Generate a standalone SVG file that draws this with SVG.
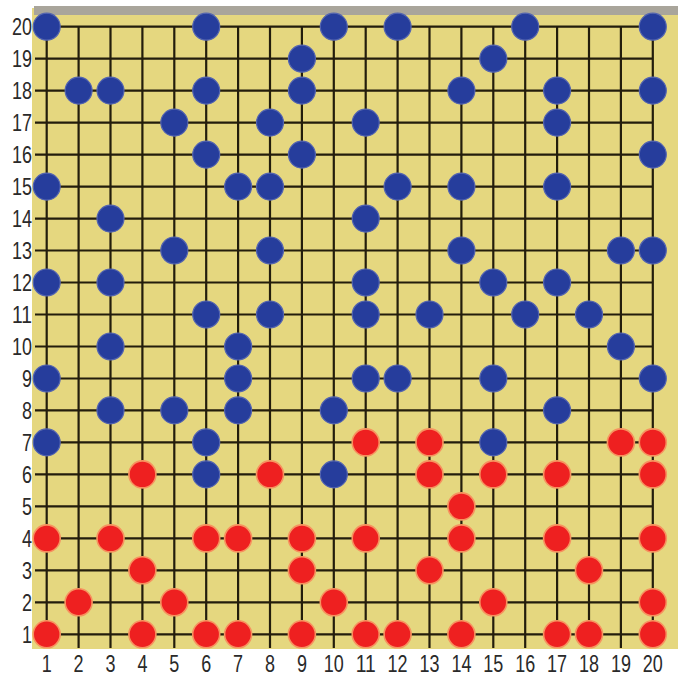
<svg xmlns="http://www.w3.org/2000/svg" width="678" height="677" viewBox="0 0 678 677">
<style>
.g{stroke:#231d0c;stroke-width:2.2;fill:none}
.b{fill:#263d9c;stroke:#5465b0;stroke-width:1.2}
.r{fill:#ee2020;stroke:#f7925f;stroke-width:1.6}
.t{font-family:"Liberation Sans",Arial,sans-serif;font-size:24px;fill:#2a2a2a}
.rl{text-anchor:end}
.cl{text-anchor:middle}
</style>
<rect width="678" height="677" fill="#ffffff"/>
<g id="board">
<rect x="32" y="8" width="646" height="641" fill="#e5d77f"/>
<rect x="34" y="6" width="644" height="9" fill="#a9a59b"/>
</g>
<g id="connectors" class="g">
<path d="M35 26.7H652.8M35 58.7H652.8M35 90.6H652.8M35 122.6H652.8M35 154.6H652.8M35 186.6H652.8M35 218.6H652.8M35 250.5H652.8M35 282.5H652.8M35 314.5H652.8M35 346.5H652.8M35 378.5H652.8M35 410.4H652.8M35 442.4H652.8M35 474.4H652.8M35 506.4H652.8M35 538.4H652.8M35 570.3H652.8M35 602.3H652.8M35 634.3H652.8"/>
<path d="M46.7 26.7V648M78.6 26.7V648M110.5 26.7V648M142.4 26.7V648M174.3 26.7V648M206.2 26.7V648M238.1 26.7V648M270 26.7V648M301.9 26.7V648M333.8 26.7V648M365.7 26.7V648M397.6 26.7V648M429.5 26.7V648M461.4 26.7V648M493.3 26.7V648M525.2 26.7V648M557.1 26.7V648M589 26.7V648M620.9 26.7V648M652.8 26.7V648"/>
</g>
<g id="blue-stones" class="b">
<circle cx="46.7" cy="26.7" r="13.5"/><circle cx="206.2" cy="26.7" r="13.5"/><circle cx="333.8" cy="26.7" r="13.5"/><circle cx="397.6" cy="26.7" r="13.5"/><circle cx="525.2" cy="26.7" r="13.5"/><circle cx="652.8" cy="26.7" r="13.5"/>
<circle cx="301.9" cy="58.7" r="13.5"/><circle cx="493.3" cy="58.7" r="13.5"/>
<circle cx="78.6" cy="90.6" r="13.5"/><circle cx="110.5" cy="90.6" r="13.5"/><circle cx="206.2" cy="90.6" r="13.5"/><circle cx="301.9" cy="90.6" r="13.5"/><circle cx="461.4" cy="90.6" r="13.5"/><circle cx="557.1" cy="90.6" r="13.5"/><circle cx="652.8" cy="90.6" r="13.5"/>
<circle cx="174.3" cy="122.6" r="13.5"/><circle cx="270" cy="122.6" r="13.5"/><circle cx="365.7" cy="122.6" r="13.5"/><circle cx="557.1" cy="122.6" r="13.5"/>
<circle cx="206.2" cy="154.6" r="13.5"/><circle cx="301.9" cy="154.6" r="13.5"/><circle cx="652.8" cy="154.6" r="13.5"/>
<circle cx="46.7" cy="186.6" r="13.5"/><circle cx="238.1" cy="186.6" r="13.5"/><circle cx="270" cy="186.6" r="13.5"/><circle cx="397.6" cy="186.6" r="13.5"/><circle cx="461.4" cy="186.6" r="13.5"/><circle cx="557.1" cy="186.6" r="13.5"/>
<circle cx="110.5" cy="218.6" r="13.5"/><circle cx="365.7" cy="218.6" r="13.5"/>
<circle cx="174.3" cy="250.5" r="13.5"/><circle cx="270" cy="250.5" r="13.5"/><circle cx="461.4" cy="250.5" r="13.5"/><circle cx="620.9" cy="250.5" r="13.5"/><circle cx="652.8" cy="250.5" r="13.5"/>
<circle cx="46.7" cy="282.5" r="13.5"/><circle cx="110.5" cy="282.5" r="13.5"/><circle cx="365.7" cy="282.5" r="13.5"/><circle cx="493.3" cy="282.5" r="13.5"/><circle cx="557.1" cy="282.5" r="13.5"/>
<circle cx="206.2" cy="314.5" r="13.5"/><circle cx="270" cy="314.5" r="13.5"/><circle cx="365.7" cy="314.5" r="13.5"/><circle cx="429.5" cy="314.5" r="13.5"/><circle cx="525.2" cy="314.5" r="13.5"/><circle cx="589" cy="314.5" r="13.5"/>
<circle cx="110.5" cy="346.5" r="13.5"/><circle cx="238.1" cy="346.5" r="13.5"/><circle cx="620.9" cy="346.5" r="13.5"/>
<circle cx="46.7" cy="378.5" r="13.5"/><circle cx="238.1" cy="378.5" r="13.5"/><circle cx="365.7" cy="378.5" r="13.5"/><circle cx="397.6" cy="378.5" r="13.5"/><circle cx="493.3" cy="378.5" r="13.5"/><circle cx="652.8" cy="378.5" r="13.5"/>
<circle cx="110.5" cy="410.4" r="13.5"/><circle cx="174.3" cy="410.4" r="13.5"/><circle cx="238.1" cy="410.4" r="13.5"/><circle cx="333.8" cy="410.4" r="13.5"/><circle cx="557.1" cy="410.4" r="13.5"/>
<circle cx="46.7" cy="442.4" r="13.5"/><circle cx="206.2" cy="442.4" r="13.5"/><circle cx="493.3" cy="442.4" r="13.5"/>
<circle cx="206.2" cy="474.4" r="13.5"/><circle cx="333.8" cy="474.4" r="13.5"/>
</g>
<g id="red-stones" class="r">
<circle cx="365.7" cy="442.4" r="13.5"/><circle cx="429.5" cy="442.4" r="13.5"/><circle cx="620.9" cy="442.4" r="13.5"/><circle cx="652.8" cy="442.4" r="13.5"/>
<circle cx="142.4" cy="474.4" r="13.5"/><circle cx="270" cy="474.4" r="13.5"/><circle cx="429.5" cy="474.4" r="13.5"/><circle cx="493.3" cy="474.4" r="13.5"/><circle cx="557.1" cy="474.4" r="13.5"/><circle cx="652.8" cy="474.4" r="13.5"/>
<circle cx="461.4" cy="506.4" r="13.5"/>
<circle cx="46.7" cy="538.4" r="13.5"/><circle cx="110.5" cy="538.4" r="13.5"/><circle cx="206.2" cy="538.4" r="13.5"/><circle cx="238.1" cy="538.4" r="13.5"/><circle cx="301.9" cy="538.4" r="13.5"/><circle cx="365.7" cy="538.4" r="13.5"/><circle cx="461.4" cy="538.4" r="13.5"/><circle cx="557.1" cy="538.4" r="13.5"/><circle cx="652.8" cy="538.4" r="13.5"/>
<circle cx="142.4" cy="570.3" r="13.5"/><circle cx="301.9" cy="570.3" r="13.5"/><circle cx="429.5" cy="570.3" r="13.5"/><circle cx="589" cy="570.3" r="13.5"/>
<circle cx="78.6" cy="602.3" r="13.5"/><circle cx="174.3" cy="602.3" r="13.5"/><circle cx="333.8" cy="602.3" r="13.5"/><circle cx="493.3" cy="602.3" r="13.5"/><circle cx="652.8" cy="602.3" r="13.5"/>
<circle cx="46.7" cy="634.3" r="13.5"/><circle cx="142.4" cy="634.3" r="13.5"/><circle cx="206.2" cy="634.3" r="13.5"/><circle cx="238.1" cy="634.3" r="13.5"/><circle cx="301.9" cy="634.3" r="13.5"/><circle cx="365.7" cy="634.3" r="13.5"/><circle cx="397.6" cy="634.3" r="13.5"/><circle cx="461.4" cy="634.3" r="13.5"/><circle cx="557.1" cy="634.3" r="13.5"/><circle cx="589" cy="634.3" r="13.5"/><circle cx="652.8" cy="634.3" r="13.5"/>
</g>
<g id="row-labels" class="t rl">
<text x="32" y="35.2" textLength="20" lengthAdjust="spacingAndGlyphs">20</text>
<text x="32" y="67.2" textLength="20" lengthAdjust="spacingAndGlyphs">19</text>
<text x="32" y="99.1" textLength="20" lengthAdjust="spacingAndGlyphs">18</text>
<text x="32" y="131.1" textLength="20" lengthAdjust="spacingAndGlyphs">17</text>
<text x="32" y="163.1" textLength="20" lengthAdjust="spacingAndGlyphs">16</text>
<text x="32" y="195.1" textLength="20" lengthAdjust="spacingAndGlyphs">15</text>
<text x="32" y="227.1" textLength="20" lengthAdjust="spacingAndGlyphs">14</text>
<text x="32" y="259" textLength="20" lengthAdjust="spacingAndGlyphs">13</text>
<text x="32" y="291" textLength="20" lengthAdjust="spacingAndGlyphs">12</text>
<text x="32" y="323" textLength="20" lengthAdjust="spacingAndGlyphs">11</text>
<text x="32" y="355" textLength="20" lengthAdjust="spacingAndGlyphs">10</text>
<text x="32" y="387" textLength="10" lengthAdjust="spacingAndGlyphs">9</text>
<text x="32" y="418.9" textLength="10" lengthAdjust="spacingAndGlyphs">8</text>
<text x="32" y="450.9" textLength="10" lengthAdjust="spacingAndGlyphs">7</text>
<text x="32" y="482.9" textLength="10" lengthAdjust="spacingAndGlyphs">6</text>
<text x="32" y="514.9" textLength="10" lengthAdjust="spacingAndGlyphs">5</text>
<text x="32" y="546.9" textLength="10" lengthAdjust="spacingAndGlyphs">4</text>
<text x="32" y="578.8" textLength="10" lengthAdjust="spacingAndGlyphs">3</text>
<text x="32" y="610.8" textLength="10" lengthAdjust="spacingAndGlyphs">2</text>
<text x="32" y="642.8" textLength="10" lengthAdjust="spacingAndGlyphs">1</text>
</g>
<g id="col-labels" class="t cl">
<text x="46.7" y="672" textLength="10" lengthAdjust="spacingAndGlyphs">1</text>
<text x="78.6" y="672" textLength="10" lengthAdjust="spacingAndGlyphs">2</text>
<text x="110.5" y="672" textLength="10" lengthAdjust="spacingAndGlyphs">3</text>
<text x="142.4" y="672" textLength="10" lengthAdjust="spacingAndGlyphs">4</text>
<text x="174.3" y="672" textLength="10" lengthAdjust="spacingAndGlyphs">5</text>
<text x="206.2" y="672" textLength="10" lengthAdjust="spacingAndGlyphs">6</text>
<text x="238.1" y="672" textLength="10" lengthAdjust="spacingAndGlyphs">7</text>
<text x="270" y="672" textLength="10" lengthAdjust="spacingAndGlyphs">8</text>
<text x="301.9" y="672" textLength="10" lengthAdjust="spacingAndGlyphs">9</text>
<text x="333.8" y="672" textLength="20" lengthAdjust="spacingAndGlyphs">10</text>
<text x="365.7" y="672" textLength="20" lengthAdjust="spacingAndGlyphs">11</text>
<text x="397.6" y="672" textLength="20" lengthAdjust="spacingAndGlyphs">12</text>
<text x="429.5" y="672" textLength="20" lengthAdjust="spacingAndGlyphs">13</text>
<text x="461.4" y="672" textLength="20" lengthAdjust="spacingAndGlyphs">14</text>
<text x="493.3" y="672" textLength="20" lengthAdjust="spacingAndGlyphs">15</text>
<text x="525.2" y="672" textLength="20" lengthAdjust="spacingAndGlyphs">16</text>
<text x="557.1" y="672" textLength="20" lengthAdjust="spacingAndGlyphs">17</text>
<text x="589" y="672" textLength="20" lengthAdjust="spacingAndGlyphs">18</text>
<text x="620.9" y="672" textLength="20" lengthAdjust="spacingAndGlyphs">19</text>
<text x="652.8" y="672" textLength="20" lengthAdjust="spacingAndGlyphs">20</text>
</g>
</svg>
